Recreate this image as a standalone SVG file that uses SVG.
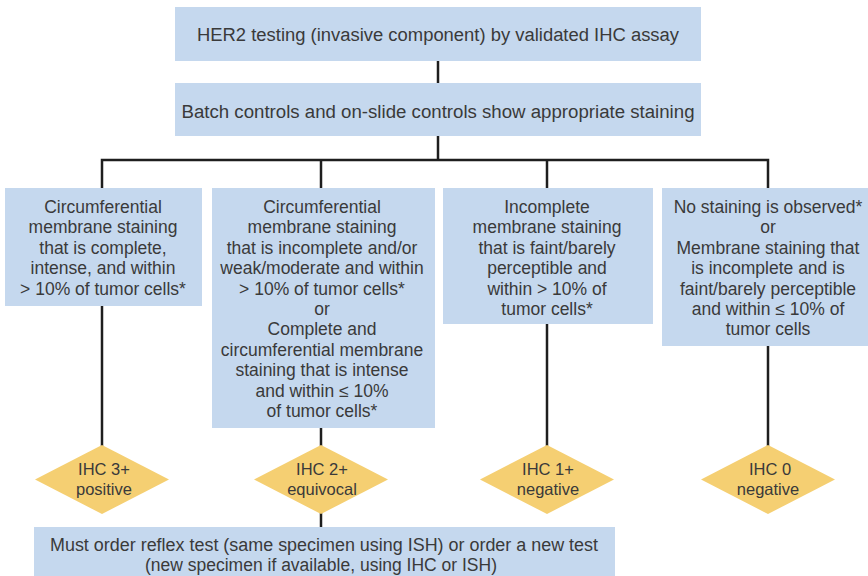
<svg xmlns="http://www.w3.org/2000/svg" width="868" height="576" viewBox="0 0 868 576">
<style>
.box{fill:#c5d8ee}
.dia{fill:#f5cf72}
.t{font-family:"Liberation Sans",Arial,sans-serif;fill:#3a3a3a;text-anchor:middle}
.big{font-size:18px}
.dt{font-size:16.5px}
.mid{font-size:17.5px}
.con{stroke:#1e1e1e;stroke-width:2.5;fill:none}
</style>
<rect width="868" height="576" fill="#ffffff"/>
<g id="connectors">
<line class="con" x1="438" y1="60" x2="438" y2="84"/>
<line class="con" x1="438" y1="135" x2="438" y2="160"/>
<polyline class="con" points="102,189 102,160 768,160 768,189"/>
<line class="con" x1="321" y1="160" x2="321" y2="189"/>
<line class="con" x1="547" y1="160" x2="547" y2="189"/>
<line class="con" x1="102" y1="305" x2="102" y2="446"/>
<line class="con" x1="321" y1="427" x2="321" y2="446"/>
<line class="con" x1="547" y1="323" x2="547" y2="446"/>
<line class="con" x1="768" y1="345" x2="768" y2="446"/>
<line class="con" x1="321" y1="512" x2="321" y2="528"/>
</g>
<g id="n-her2">
<rect class="box" x="175" y="7" width="526" height="54"/>
<text class="t big" x="438" y="41" textLength="482" lengthAdjust="spacingAndGlyphs">HER2 testing (invasive component) by validated IHC assay</text>
</g>
<g id="n-controls">
<rect class="box" x="175" y="83" width="526" height="53"/>
<text class="t big" x="438" y="118" textLength="513" lengthAdjust="spacingAndGlyphs">Batch controls and on-slide controls show appropriate staining</text>
</g>
<g id="n-c3">
<rect class="box" x="5" y="188" width="197" height="118"/>
<text class="t mid" x="103" y="213">Circumferential</text>
<text class="t mid" x="103" y="233.4">membrane staining</text>
<text class="t mid" x="103" y="253.8">that is complete,</text>
<text class="t mid" x="103" y="274.2">intense, and within</text>
<text class="t mid" x="103" y="294.6">&gt; 10% of tumor cells*</text>
</g>
<g id="n-c2">
<rect class="box" x="212" y="188" width="223" height="240"/>
<text class="t mid" x="322" y="213">Circumferential</text>
<text class="t mid" x="322" y="233.4">membrane staining</text>
<text class="t mid" x="322" y="253.8">that is incomplete and/or</text>
<text class="t mid" x="322" y="274.2">weak/moderate and within</text>
<text class="t mid" x="322" y="294.6">&gt; 10% of tumor cells*</text>
<text class="t mid" x="322" y="315">or</text>
<text class="t mid" x="322" y="335.4">Complete and</text>
<text class="t mid" x="322" y="355.8">circumferential membrane</text>
<text class="t mid" x="322" y="376.2">staining that is intense</text>
<text class="t mid" x="322" y="396.6">and within ≤ 10%</text>
<text class="t mid" x="322" y="417">of tumor cells*</text>
</g>
<g id="n-c1">
<rect class="box" x="443" y="188" width="210" height="136"/>
<text class="t mid" x="547" y="213">Incomplete</text>
<text class="t mid" x="547" y="233.4">membrane staining</text>
<text class="t mid" x="547" y="253.8">that is faint/barely</text>
<text class="t mid" x="547" y="274.2">perceptible and</text>
<text class="t mid" x="547" y="294.6">within &gt; 10% of</text>
<text class="t mid" x="547" y="315">tumor cells*</text>
</g>
<g id="n-c0">
<rect class="box" x="662" y="188" width="206" height="158"/>
<text class="t mid" x="768" y="213">No staining is observed*</text>
<text class="t mid" x="768" y="233.4">or</text>
<text class="t mid" x="768" y="253.8">Membrane staining that</text>
<text class="t mid" x="768" y="274.2">is incomplete and is</text>
<text class="t mid" x="768" y="294.6">faint/barely perceptible</text>
<text class="t mid" x="768" y="315">and within ≤ 10% of</text>
<text class="t mid" x="768" y="335.4">tumor cells</text>
</g>
<g id="d-3">
<polygon class="dia" points="102,445 169,479.5 102,514 35,479.5"/>
<text class="t dt" x="104" y="475">IHC 3+</text>
<text class="t dt" x="104" y="494.5">positive</text>
</g>
<g id="d-2">
<polygon class="dia" points="321,445 388,479.5 321,514 254,479.5"/>
<text class="t dt" x="322" y="475">IHC 2+</text>
<text class="t dt" x="322" y="494.5">equivocal</text>
</g>
<g id="d-1">
<polygon class="dia" points="547,445 614,479.5 547,514 480,479.5"/>
<text class="t dt" x="548" y="475">IHC 1+</text>
<text class="t dt" x="548" y="494.5">negative</text>
</g>
<g id="d-0">
<polygon class="dia" points="768,445 835,479.5 768,514 701,479.5"/>
<text class="t dt" x="770" y="475">IHC 0</text>
<text class="t dt" x="768" y="494.5">negative</text>
</g>
<g id="n-reflex">
<rect class="box" x="34" y="527" width="581" height="49"/>
<text class="t big" x="324" y="551" textLength="548" lengthAdjust="spacingAndGlyphs">Must order reflex test (same specimen using ISH) or order a new test</text>
<text class="t big" x="321" y="571" textLength="352" lengthAdjust="spacingAndGlyphs">(new specimen if available, using IHC or ISH)</text>
</g>
</svg>
